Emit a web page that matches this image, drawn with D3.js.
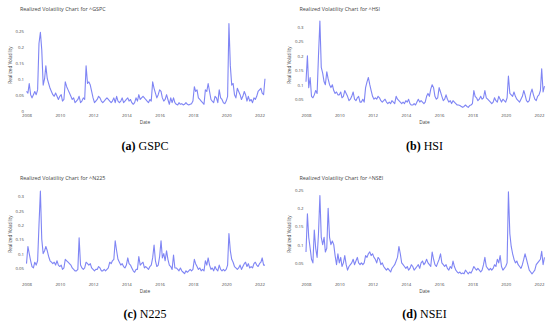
<!DOCTYPE html>
<html>
<head>
<meta charset="utf-8">
<script src="https://cdn.jsdelivr.net/npm/d3@7"></script>
<style>
  body { margin: 0; background: #fff; }
  svg { display: block; }
</style>
</head>
<body>
<div id="chart"></div>
<script>
// monthly realized volatility, Jan 2008 .. May 2022
const gspcVol = [
  0.06, 0.055, 0.085, 0.05, 0.04, 0.05, 0.06, 0.05, 0.065, 0.21, 0.245, 0.19,
  0.08, 0.1, 0.14, 0.1, 0.085, 0.07, 0.06, 0.05, 0.045, 0.055, 0.045, 0.035,
  0.045, 0.05, 0.03, 0.035, 0.09, 0.075, 0.065, 0.055, 0.045, 0.035, 0.04, 0.025,
  0.03, 0.035, 0.045, 0.025, 0.03, 0.04, 0.035, 0.14, 0.085, 0.09, 0.08, 0.06,
  0.04, 0.025, 0.03, 0.035, 0.045, 0.04, 0.03, 0.025, 0.03, 0.035, 0.04, 0.035,
  0.03, 0.025, 0.03, 0.04, 0.025, 0.045, 0.03, 0.025, 0.03, 0.04, 0.025, 0.03,
  0.035, 0.04, 0.03, 0.035, 0.025, 0.02, 0.025, 0.04, 0.03, 0.05, 0.035, 0.04,
  0.045, 0.04, 0.035, 0.03, 0.025, 0.035, 0.03, 0.09, 0.07, 0.055, 0.04, 0.05,
  0.065, 0.06, 0.04, 0.03, 0.035, 0.05, 0.035, 0.02, 0.04, 0.025, 0.04, 0.025,
  0.02, 0.018, 0.025, 0.02, 0.022, 0.018, 0.02, 0.025, 0.02, 0.018, 0.02, 0.022,
  0.03, 0.075, 0.06, 0.065, 0.04, 0.035, 0.03, 0.025, 0.02, 0.065, 0.06, 0.085,
  0.06, 0.035, 0.03, 0.025, 0.045, 0.04, 0.025, 0.065, 0.04, 0.035, 0.025, 0.022,
  0.03, 0.045, 0.272, 0.14, 0.08, 0.085, 0.05, 0.04, 0.07, 0.06, 0.05, 0.035,
  0.045, 0.06, 0.05, 0.03, 0.045, 0.03, 0.035, 0.025, 0.04, 0.035, 0.045, 0.06,
  0.065, 0.07, 0.055, 0.05, 0.1
];

const hsiVol = [
  0.11, 0.2, 0.09, 0.125, 0.06, 0.055, 0.065, 0.08, 0.07, 0.2, 0.32, 0.16,
  0.14, 0.11, 0.1, 0.145, 0.12, 0.1, 0.09, 0.1, 0.08, 0.07, 0.075, 0.065,
  0.065, 0.075, 0.055, 0.06, 0.08, 0.07, 0.06, 0.045, 0.05, 0.06, 0.075, 0.05,
  0.045, 0.055, 0.06, 0.04, 0.04, 0.05, 0.04, 0.09, 0.11, 0.125, 0.1, 0.08,
  0.06, 0.05, 0.055, 0.05, 0.06, 0.055, 0.045, 0.04, 0.045, 0.05, 0.04, 0.035,
  0.04, 0.035, 0.045, 0.04, 0.035, 0.06, 0.05, 0.045, 0.04, 0.035, 0.04, 0.035,
  0.045, 0.04, 0.05, 0.035, 0.03, 0.03, 0.035, 0.03, 0.04, 0.05, 0.04, 0.045,
  0.04, 0.035, 0.04, 0.06, 0.07, 0.06, 0.085, 0.1, 0.09, 0.06, 0.05, 0.055,
  0.09, 0.075, 0.06, 0.045, 0.05, 0.065, 0.05, 0.04, 0.045, 0.035, 0.045, 0.04,
  0.035, 0.03, 0.03, 0.028, 0.025, 0.022, 0.025, 0.03, 0.025, 0.022, 0.028, 0.03,
  0.035, 0.08, 0.06, 0.055, 0.045, 0.05, 0.06, 0.05, 0.055, 0.08, 0.055, 0.05,
  0.045, 0.04, 0.035, 0.04, 0.055, 0.045, 0.04, 0.06, 0.05, 0.04, 0.05, 0.045,
  0.04, 0.055, 0.13, 0.07, 0.065, 0.06, 0.075, 0.06, 0.05, 0.045, 0.04, 0.05,
  0.06, 0.08, 0.065, 0.045, 0.04, 0.045, 0.07, 0.085, 0.065, 0.05, 0.045, 0.06,
  0.065, 0.08, 0.155, 0.075, 0.095
];

const n225Vol = [
  0.065, 0.125, 0.1, 0.075, 0.055, 0.05, 0.07, 0.06, 0.075, 0.2, 0.318, 0.15,
  0.1, 0.11, 0.125, 0.11, 0.09, 0.075, 0.07, 0.065, 0.07, 0.06, 0.075, 0.06,
  0.055, 0.06, 0.045, 0.05, 0.08, 0.075, 0.07, 0.065, 0.06, 0.05, 0.045, 0.04,
  0.04, 0.045, 0.155, 0.06, 0.05, 0.045, 0.05, 0.07, 0.065, 0.06, 0.065, 0.05,
  0.045, 0.04, 0.045, 0.045, 0.055, 0.05, 0.04, 0.04, 0.045, 0.04, 0.045, 0.05,
  0.07, 0.065, 0.075, 0.08, 0.145, 0.11, 0.08, 0.07, 0.06, 0.065, 0.055, 0.05,
  0.06, 0.085, 0.065, 0.06, 0.05, 0.04, 0.035, 0.045, 0.045, 0.09, 0.06, 0.065,
  0.07, 0.05, 0.055, 0.05, 0.045, 0.055, 0.06, 0.085, 0.13, 0.075, 0.055, 0.06,
  0.09, 0.145, 0.085, 0.1, 0.075, 0.11, 0.08, 0.06, 0.055, 0.045, 0.095, 0.05,
  0.05, 0.045, 0.04, 0.05, 0.04, 0.035, 0.03, 0.04, 0.035, 0.04, 0.045, 0.04,
  0.045, 0.08, 0.065, 0.055, 0.045, 0.05, 0.04, 0.045, 0.04, 0.075, 0.06, 0.085,
  0.06, 0.045, 0.05, 0.04, 0.055, 0.045, 0.04, 0.06, 0.045, 0.04, 0.045, 0.04,
  0.045, 0.06, 0.17, 0.11, 0.08, 0.07, 0.055, 0.05, 0.045, 0.05, 0.06, 0.045,
  0.055, 0.065, 0.07, 0.055, 0.065, 0.05, 0.055, 0.05, 0.065, 0.07, 0.06, 0.055,
  0.065, 0.07, 0.085, 0.06, 0.06
];

const nseiVol = [
  0.08, 0.185, 0.12, 0.09, 0.06, 0.05, 0.14, 0.09, 0.065, 0.13, 0.235, 0.12,
  0.1, 0.12, 0.08, 0.09, 0.2, 0.12, 0.1, 0.11, 0.1, 0.07, 0.045, 0.075,
  0.05, 0.065, 0.04, 0.05, 0.07, 0.045, 0.03, 0.04, 0.045, 0.05, 0.06, 0.045,
  0.055, 0.065, 0.05, 0.045, 0.05, 0.045, 0.05, 0.07, 0.065, 0.075, 0.08, 0.07,
  0.075, 0.065, 0.06, 0.05, 0.065, 0.06, 0.045, 0.05, 0.04, 0.035, 0.03, 0.035,
  0.03, 0.025, 0.035, 0.04, 0.045, 0.055, 0.065, 0.095, 0.075, 0.05, 0.045, 0.04,
  0.035, 0.04, 0.03, 0.035, 0.045, 0.04, 0.03, 0.035, 0.04, 0.045, 0.035, 0.05,
  0.055, 0.045, 0.05, 0.06, 0.05, 0.045, 0.04, 0.08, 0.06, 0.045, 0.04, 0.05,
  0.06, 0.075, 0.05, 0.045, 0.04, 0.045, 0.035, 0.03, 0.04, 0.035, 0.055, 0.04,
  0.03, 0.025, 0.022, 0.025, 0.02, 0.022, 0.02, 0.03, 0.025, 0.02, 0.025, 0.022,
  0.03, 0.04, 0.035, 0.03, 0.035, 0.03, 0.025, 0.03, 0.045, 0.065, 0.04, 0.035,
  0.03, 0.035, 0.03, 0.035, 0.045, 0.04, 0.06, 0.05, 0.07, 0.04, 0.03, 0.035,
  0.04, 0.05, 0.245, 0.13, 0.095, 0.075, 0.06, 0.05, 0.055, 0.045, 0.04, 0.035,
  0.045, 0.06, 0.075, 0.06, 0.045, 0.03, 0.025, 0.02, 0.025, 0.03, 0.045, 0.05,
  0.055, 0.06, 0.082, 0.045, 0.065
];

const yearTicks = [2008, 2010, 2012, 2014, 2016, 2018, 2020, 2022];
const gspcTicks = [0, 0.05, 0.1, 0.15, 0.2, 0.25];
const hsiTicks = [0.05, 0.1, 0.15, 0.2, 0.25, 0.3];
const n225Ticks = [0.05, 0.1, 0.15, 0.2, 0.25, 0.3];
const nseiTicks = [0.05, 0.1, 0.15, 0.2, 0.25];

const months = d3.timeMonth.range(new Date(2008, 0, 1), new Date(2022, 5, 1));

const panels = [
  { ticker: "^GSPC", tag: "(a)", name: "GSPC", values: gspcVol, ticks: gspcTicks, yDomain: [-0.001, 0.2803], dx: 0, dy: 0, capY: 146 },
  { ticker: "^HSI", tag: "(b)", name: "HSI", values: hsiVol, ticks: hsiTicks, yDomain: [0.0093, 0.32], dx: 279.5, dy: 0, capY: 146 },
  { ticker: "^N225", tag: "(c)", name: "N225", values: n225Vol, ticks: n225Ticks, yDomain: [0.008, 0.322], dx: 0, dy: 169, capY: 314 },
  { ticker: "^NSEI", tag: "(d)", name: "NSEI", values: nseiVol, ticks: nseiTicks, yDomain: [0.003, 0.25], dx: 279.5, dy: 169, capY: 314 }
];

const W = 550, H = 326;
const lineColor = "#6970f2";
const textColor = "#444";
const font = "'Open Sans', 'Noto Sans', sans-serif";

const svg = d3.select("#chart").append("svg")
    .attr("width", W)
    .attr("height", H)
    .style("background", "#fff");

// local scales shared by all four plots
const xScale = d3.scaleTime()
    .domain([new Date(2008, 0, 1), new Date(2022, 0, 1)])
    .range([26.5, 259.5]);

panels.forEach((p) => {
    const yScale = d3.scaleLinear().domain(p.yDomain).range([111, 21]);

    const g = svg.append("g")
        .attr("transform", `translate(${p.dx}, ${p.dy})`);

    // title
    g.append("text")
        .attr("x", 20)
        .attr("y", 10.5)
        .style("font-family", font)
        .style("font-size", "5.4px")
        .style("fill", textColor)
        .text(`Realized Volatility Chart for ${p.ticker}`);

    // y axis
    const yAxis = g.append("g")
        .attr("transform", "translate(26, 0)")
        .call(d3.axisLeft(yScale).tickValues(p.ticks).tickSize(0).tickPadding(2).tickFormat((d) => String(d)));
    yAxis.select(".domain").remove();
    yAxis.selectAll("text")
        .style("font-family", font)
        .style("font-size", "4.3px")
        .style("fill", textColor);

    // x axis
    const xAxis = g.append("g")
        .attr("transform", "translate(0, 111)")
        .call(d3.axisBottom(xScale)
            .tickValues(yearTicks.map((y) => new Date(y, 0, 1)))
            .tickSize(0).tickPadding(3)
            .tickFormat(d3.timeFormat("%Y")));
    xAxis.select(".domain").remove();
    xAxis.selectAll("text")
        .style("font-family", font)
        .style("font-size", "4.3px")
        .style("fill", textColor);

    // axis titles
    g.append("text")
        .attr("x", 145)
        .attr("y", 124)
        .attr("text-anchor", "middle")
        .style("font-family", font)
        .style("font-size", "4.8px")
        .style("fill", textColor)
        .text("Date");

    g.append("text")
        .attr("transform", "translate(11.5, 65) rotate(-90)")
        .attr("text-anchor", "middle")
        .style("font-family", font)
        .style("font-size", "4.6px")
        .style("fill", textColor)
        .text("Realized Volatility");

    // the series
    const line = d3.line()
        .x((d, i) => xScale(months[i]))
        .y((d) => yScale(d));

    g.append("path")
        .datum(p.values)
        .attr("d", line)
        .attr("fill", "none")
        .attr("stroke", lineColor)
        .attr("stroke-width", 1.1)
        .attr("stroke-opacity", 0.85)
        .attr("stroke-linejoin", "round");

    // caption below each plot
    const cap = svg.append("text")
        .attr("x", p.dx + 145)
        .attr("y", p.capY + 4)
        .attr("text-anchor", "middle")
        .style("font-family", "'Liberation Serif', 'DejaVu Serif', serif")
        .style("font-size", "12px")
        .style("fill", "#000");
    cap.append("tspan").style("font-weight", "bold").text(p.tag);
    cap.append("tspan").text(` ${p.name}`);
});
</script>
</body>
</html>
